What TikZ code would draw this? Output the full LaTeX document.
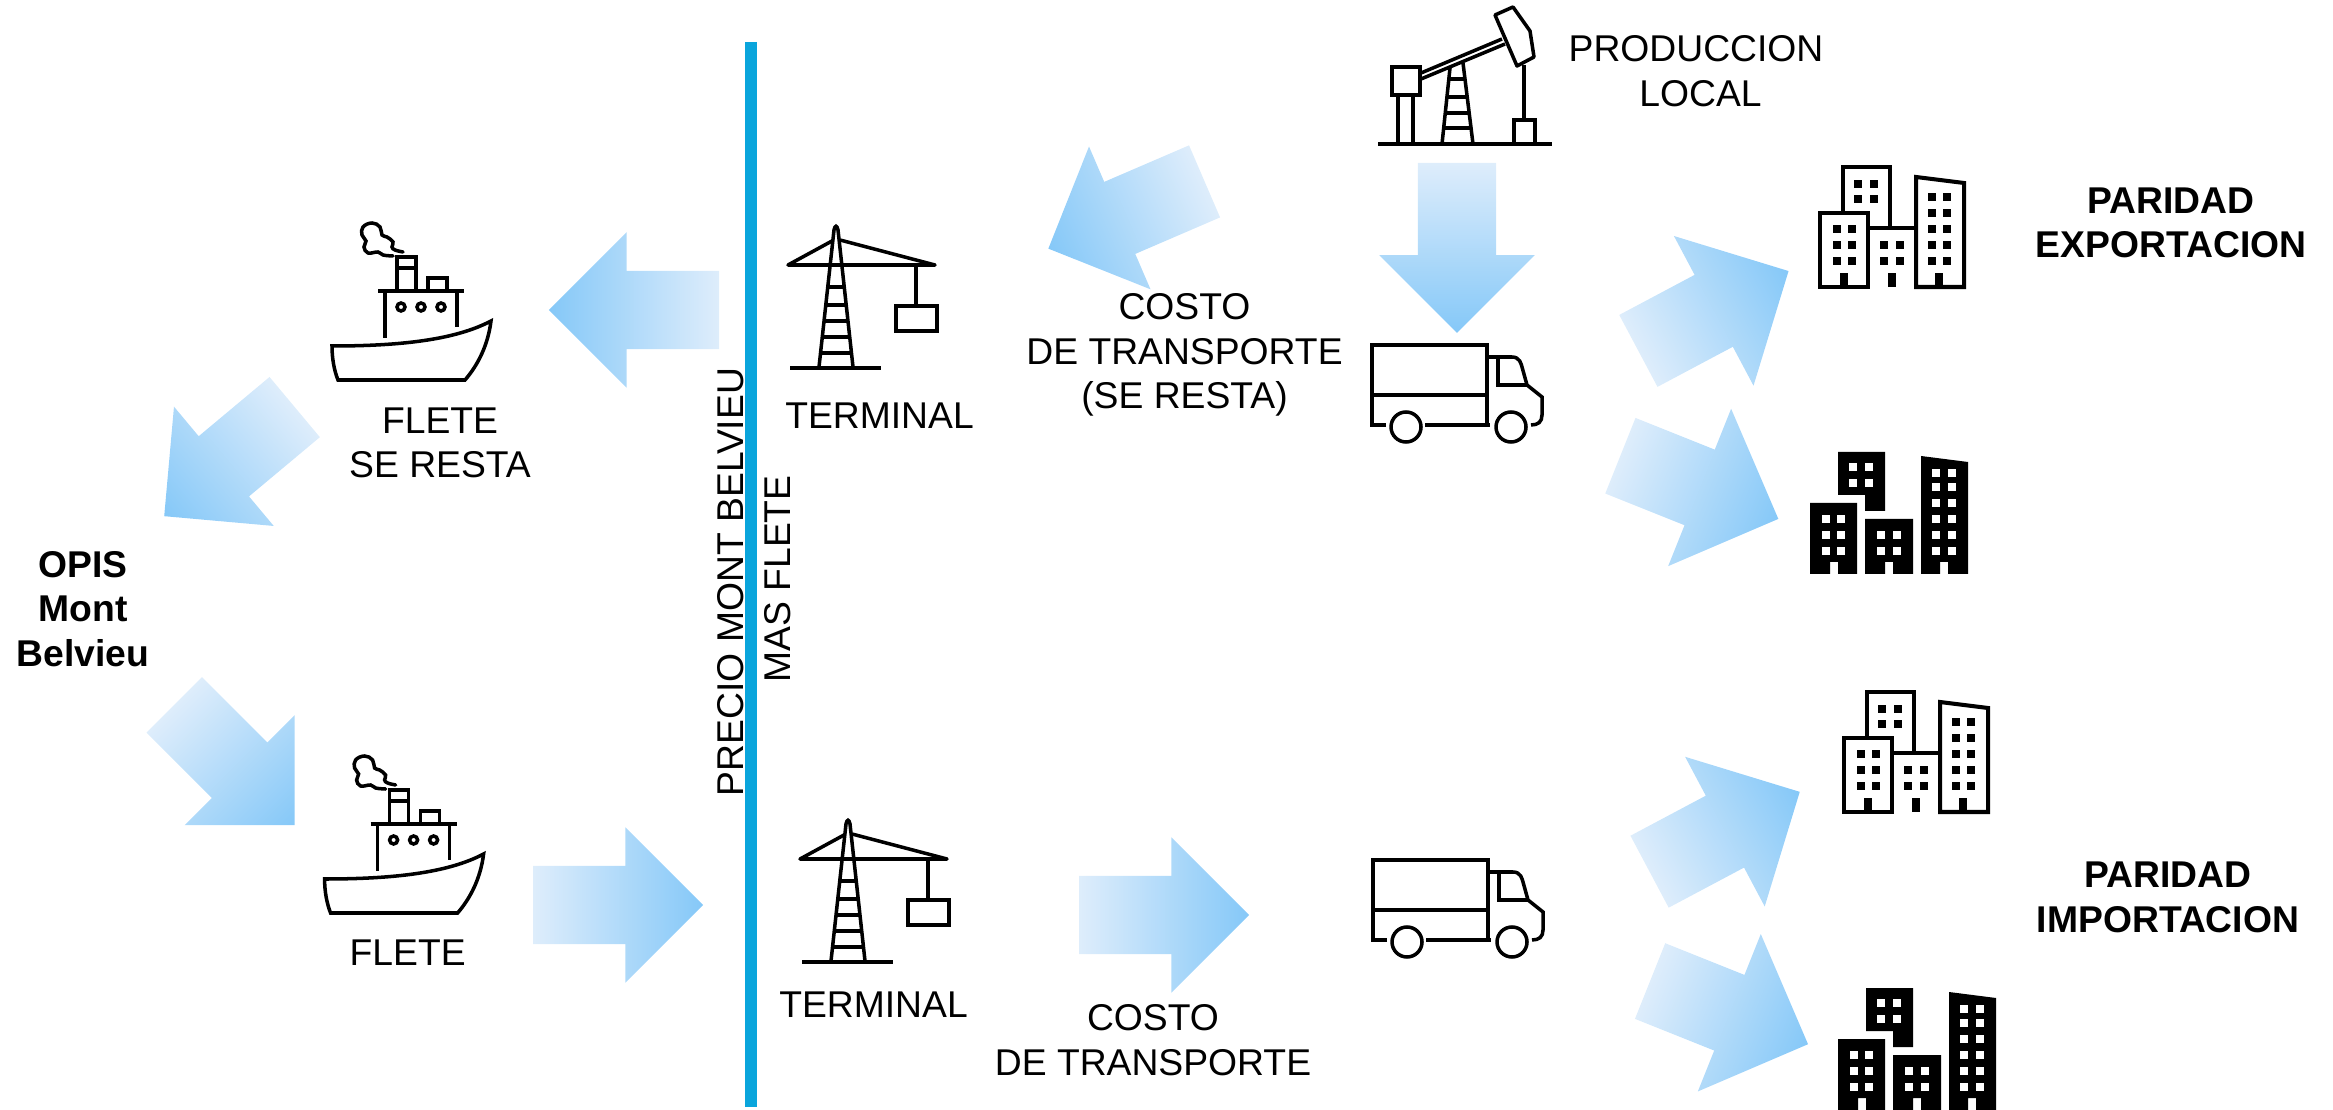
\documentclass[tikz,border=0pt]{standalone}
\usepackage{fontspec}
\setmainfont{Liberation Sans}
\usepackage{tikz}
\usetikzlibrary{shapes.arrows}
\definecolor{mbar}{RGB}{10, 165, 220}
\definecolor{mlight}{RGB}{222, 237, 251}
\definecolor{mdark}{RGB}{133, 200, 248}
\tikzset{icon/.style = {line width=1pt, black},
         label/.style = {font=\fontsize{10.6}{12.7}\selectfont, align=center, inner sep=0pt},
         boldlabel/.style = {label, font=\fontsize{10.6}{12.7}\selectfont\bfseries},
         flowarrow/.style = {single arrow, minimum height=1.70cm, minimum width=1.54cm,
                             single arrow head extend=0.385cm, inner xsep=0pt, inner ysep=0.385cm, outer sep=0pt,
                             left color=mlight, right color=mdark, anchor=tail},
         widearrow/.style = {flowarrow, minimum width=1.68cm, single arrow head extend=0.44cm, inner ysep=0.40cm},
         ship/.pic = {
           \draw [icon] (32,146) .. controls (100,146) and (155,140) .. (191,121) .. controls (188,145) and (178,165) .. (165,180) -- (38,180) .. controls (34,170) and (32,158) .. (32,146) -- cycle;
           \draw [icon] (78,91) -- (164,91);
           \draw [icon] (85,91) -- (85,138);
           \draw [icon] (157,91) -- (157,127);
           \draw [icon] (97,91) -- (97,57) -- (116,57) -- (116,91);
           \draw [icon] (97,68) -- (116,68);
           \draw [icon] (128,91) -- (128,78) -- (147,78) -- (147,91);
           \draw [icon] (101,107) circle (4);
           \draw [icon] (121,107) circle (4);
           \draw [icon] (141,107) circle (4);
           \draw [icon, line cap=round] plot [smooth, tension=0.7] coordinates {(103,52) (95,50) (92,47) (93,42) (87,37) (82,35) (80,27) (72,23) (63,27) (62,35) (66,41) (64,47) (68,53) (78,52) (83,55) (93,56)};
         },
         crane/.pic = {
           \draw [icon] (50,168) -- (141,168);
           \draw [icon] (79,167) -- (94,30) .. controls (95,25) and (97,25) .. (98,30) -- (113,167);
           \draw [icon, line join=round] (92,41) -- (48,65) -- (195,65) -- (100,40);
           \draw [icon] (176,66) -- (176,106);
           \draw [icon] (156,106) rectangle (197,131);
           \draw [icon] (87.6,87) -- (103.8,87);
           \draw [icon] (85.6,105) -- (105.9,105);
           \draw [icon] (83.9,121) -- (107.8,121);
           \draw [icon] (82.2,137) -- (109.6,137);
           \draw [icon] (80.4,153) -- (111.5,153);
         },
         pump/.pic = {
           \draw [icon] (38,144) -- (212,144);
           \draw [icon] (52,67) rectangle (80,95);
           \draw [icon] (58,95) -- (58,144);
           \draw [icon] (73,95) -- (73,144);
           \draw [icon] (81,73) -- (162,39);
           \draw [icon] (81,79) -- (165,44);
           \draw [icon, line join=round] (155,15) -- (173,7) -- (190,31) -- (194,57) -- (177,66) -- cycle;
           \draw [icon] (110,68) -- (102,144);
           \draw [icon] (123,63) -- (133,144);
           \draw [icon] (108.8,79) -- (125,79);
           \draw [icon] (106.9,97) -- (127.3,97);
           \draw [icon] (105.2,113) -- (129.3,113);
           \draw [icon] (103.6,128) -- (131.1,128);
           \draw [icon] (184,65) -- (184,120);
           \draw [icon] (174,120) rectangle (195,144);
         },
         truck/.pic = {
           \draw [icon] (36,105) -- (22,105) -- (22,25) -- (137,25) -- (137,105);
           \draw [icon] (75,105) -- (140,105);
           \draw [icon] (22,75) -- (137,75);
           \draw [icon] (137,37) -- (162,37) .. controls (170,37) and (171,44) .. (172,47) -- (177,65) -- (192,77) -- (192,95) .. controls (192,102) and (188,105) .. (181,105);
           \draw [icon] (148,37) -- (148,65) -- (177,65);
           \draw [icon] (56,107) circle (15);
           \draw [icon] (161,107) circle (15);
         },
         cityline/.pic = {
           \draw [icon, line width=1.15pt] (29,63) rectangle (77,137);
           \draw [icon, line width=1.15pt] (52,63) -- (52,17) -- (99,17) -- (99,78);
           \draw [icon, line width=1.15pt] (77,78) -- (125,78);
           \draw [icon, line width=1.15pt] (125,137) -- (125,27) -- (173,33) -- (173,137) -- cycle;
           \foreach \wx/\wy in {67/34, 83/34, 67/49, 83/49, 46/79, 61/79, 46/95, 61/95, 46/111, 61/111,
                                93/95, 109/95, 93/111, 109/111, 141/47, 156/47, 141/63, 156/63,
                                141/79, 156/79, 141/95, 156/95, 141/111, 156/111}
             \fill (\wx-4,\wy-4) rectangle (\wx+4,\wy+4);
           \foreach \dx in {49, 97, 144}
             \fill (\dx,123) rectangle (\dx+8,137);
         },
         cityblack/.pic = {
           \fill (48,12) -- (95,12) -- (95,71) -- (75,71) -- (75,55) -- (48,55) -- cycle;
           \fill (20,63) -- (67,63) -- (67,134) -- (48,134) -- (48,122) -- (40,122) -- (40,134) -- (20,134) -- cycle;
           \fill (75,79) -- (123,79) -- (123,134) -- (103,134) -- (103,122) -- (95,122) -- (95,134) -- (75,134) -- cycle;
           \fill (131,16) -- (178,22) -- (178,134) -- (158,134) -- (158,122) -- (150,122) -- (150,134) -- (131,134) -- cycle;
           \foreach \wx/\wy in {63/27, 79/27, 63/43, 79/43, 36/79, 51/79, 36/95, 51/95, 36/111, 51/111,
                                91/95, 107/95, 91/111, 107/111, 146/33, 162/33, 146/47, 162/47, 146/63, 162/63,
                                146/79, 162/79, 146/95, 162/95, 146/111, 162/111}
             \fill [white] (\wx-4,\wy-4) rectangle (\wx+4,\wy+4);
         }}

\begin{document}
\begin{tikzpicture}[x=0.01cm, y=-0.01cm]
      \useasboundingbox (0, 0) rectangle (2333, 1110);
      \coordinate (bartop) at (751, 42);
      \coordinate (barbottom) at (751, 1107);
      \draw [line width=12*0.01cm, mbar] (bartop) -- (barbottom);

      \foreach \name/\px/\py/\ang in {shiptop/634/310/180, toopis/229.5/461.6/219.9, fromopis/234.4/765/-45,
                                      toterminal/618/905/0, costtop/1126.5/215/203.3, fromlocal/1457/247.8/-90,
                                      costbottom/1164/915/0} {
        \begin{scope}[transform canvas={shift={(\px, \py)}, rotate=\ang}]
          \node [flowarrow] (\name) at (-85, 0) {};
        \end{scope}
      }
      \foreach \name/\px/\py/\ang in {cityA/1713.4/311/28, cityB/1699.3/487.3/-21.8,
                                      cityC/1724.6/831.8/28, cityD/1729/1012.6/-21.8} {
        \begin{scope}[transform canvas={shift={(\px, \py)}, rotate=\ang}]
          \node [widearrow] (\name) at (-85, 0) {};
        \end{scope}
      }

      \pic at (300, 200) {ship};
      \pic at (292.6, 733) {ship};
      \pic at (740, 200) {crane};
      \pic at (752, 794) {crane};
      \pic at (1340, 0) {pump};
      \pic at (1350, 320) {truck};
      \pic at (1351, 835) {truck};
      \pic at (1791, 150) {cityline};
      \pic at (1815, 675) {cityline};
      \pic at (1790, 440) {cityblack};
      \pic at (1818, 976) {cityblack};

      \node [boldlabel] (opis) at (83, 609) {OPIS\\Mont\\Belvieu};
      \node [label] (fletetop) at (440, 443) {FLETE\\SE RESTA};
      \node [label] (fletebottom) at (407.7, 953) {FLETE};
      \node [label, rotate=90] (precio) at (731, 582) {PRECIO MONT BELVIEU};
      \node [label, rotate=90] (masflete) at (778, 579) {MAS FLETE};
      \node [label] (terminaltop) at (879.5, 416) {TERMINAL};
      \node [label] (terminalbottom) at (873.5, 1005) {TERMINAL};
      \node [label] (costotop) at (1184.5, 355) {COSTO\\DE TRANSPORTE\\(SE RESTA)};
      \node [label] (costobottom) at (1153, 1040) {COSTO\\DE TRANSPORTE};
      \node [label] (produccion) at (1696, 71) {PRODUCCION\\\hspace{0.09cm}LOCAL};
      \node [boldlabel] (exportacion) at (2171, 223) {PARIDAD\\EXPORTACION};
      \node [boldlabel] (importacion) at (2168, 897.5) {PARIDAD\\IMPORTACION};
    \end{tikzpicture}
\end{document}
